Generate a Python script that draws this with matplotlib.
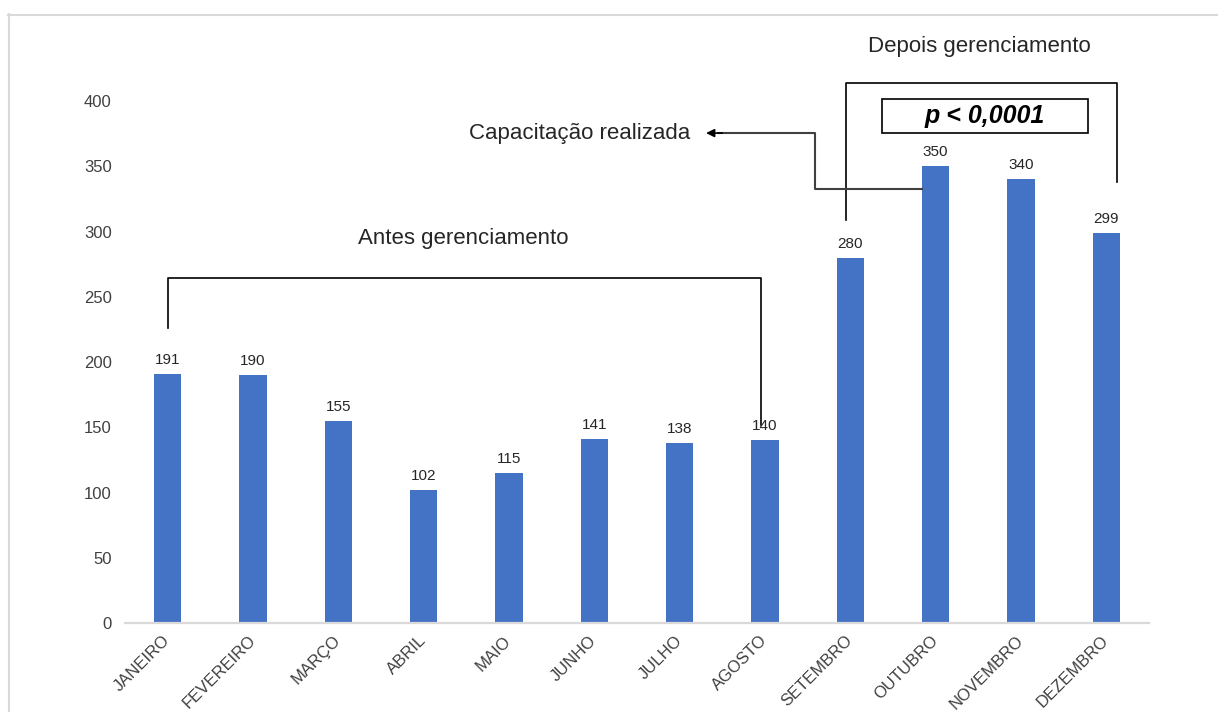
import matplotlib.pyplot as plt
from matplotlib.lines import Line2D
from matplotlib.patches import Rectangle

plt.rcParams['font.family'] = ['Liberation Sans', 'DejaVu Sans']

# Atendimentos por mes
meses = ['JANEIRO', 'FEVEREIRO', 'MARÇO', 'ABRIL', 'MAIO', 'JUNHO',
         'JULHO', 'AGOSTO', 'SETEMBRO', 'OUTUBRO', 'NOVEMBRO', 'DEZEMBRO']
valores = [191, 190, 155, 102, 115, 141, 138, 140, 280, 350, 340, 299]
yticks = [0, 50, 100, 150, 200, 250, 300, 350, 400]

azul = '#4472C4'
cinza_texto = '#404040'

fig = plt.figure(figsize=(12.18, 7.12), dpi=100)
ax = fig.add_axes([0.1026, 0.125, 0.8407, 0.733])

x = list(range(len(meses)))
barras = ax.bar(x, valores, width=0.32, color=azul, zorder=2)

for xi, v in zip(x, valores):
    ax.annotate(str(v), (xi, v), xytext=(0, 10), textcoords='offset points',
                ha='center', va='center', fontsize=11, color='#262626')

ax.set_xlim(-0.5, 11.5)
ax.set_ylim(0, 400)
ax.set_yticks(yticks)
ax.set_xticks(x)
ax.set_xticklabels(meses, rotation=45, ha='right', va='center',
                   rotation_mode='anchor', fontsize=10.3, color=cinza_texto)
ax.tick_params(axis='both', length=0, labelsize=12, colors=cinza_texto)
ax.tick_params(axis='x', pad=11)
ax.tick_params(axis='y', pad=9.5)
for lado in ['top', 'right', 'left']:
    ax.spines[lado].set_visible(False)
ax.spines['bottom'].set_color('#D9D9D9')
ax.spines['bottom'].set_linewidth(1.6)

# Chave "antes"
ax.plot([0, 0, 6.95, 6.95], [226, 264.4, 264.4, 151.7],
        color='black', lw=1.2, clip_on=False)
ax.text(3.47, 295, 'Antes gerenciamento', ha='center', va='center',
        fontsize=16, color='#262626')

# Chave "depois"
ax.plot([7.95, 7.95, 11.12, 11.12], [308.8, 413.8, 413.8, 337.9],
        color='black', lw=1.2, clip_on=False)
ax.text(9.51, 442, 'Depois gerenciamento', ha='center', va='center',
        fontsize=16, color='#262626', clip_on=False)

# Caixa com o valor de p
ax.add_patch(Rectangle((8.37, 375.5), 2.42, 26, fill=False, edgecolor='black',
                       lw=1.2, clip_on=False))
ax.text(9.58, 388.5, 'p < 0,0001', ha='center', va='center', fontsize=18,
        fontweight='bold', fontstyle='italic', color='black')

# Seta da capacitacao
ax.plot([8.84, 7.59, 7.59, 6.45], [332.6, 332.6, 375.5, 375.5],
        color='#404040', lw=1.5, clip_on=False)
ax.annotate('', xy=(6.31, 375.5), xytext=(6.5, 375.5),
            arrowprops=dict(arrowstyle='-|>', color='black', lw=1.2,
                            mutation_scale=12, shrinkA=0, shrinkB=0),
            annotation_clip=False)
ax.text(6.12, 375.5, 'Capacitação realizada', ha='right', va='center',
        fontsize=16, color='#262626')

# Moldura
fig.add_artist(Line2D([8.5 / 1218, 8.5 / 1218], [0, 1 - 14 / 712],
                      color='#D9D9D9', lw=1.5))
fig.add_artist(Line2D([8 / 1218, 1], [1 - 14.5 / 712, 1 - 14.5 / 712],
                      color='#D9D9D9', lw=1.5))

fig.savefig('out.png', dpi=100)
